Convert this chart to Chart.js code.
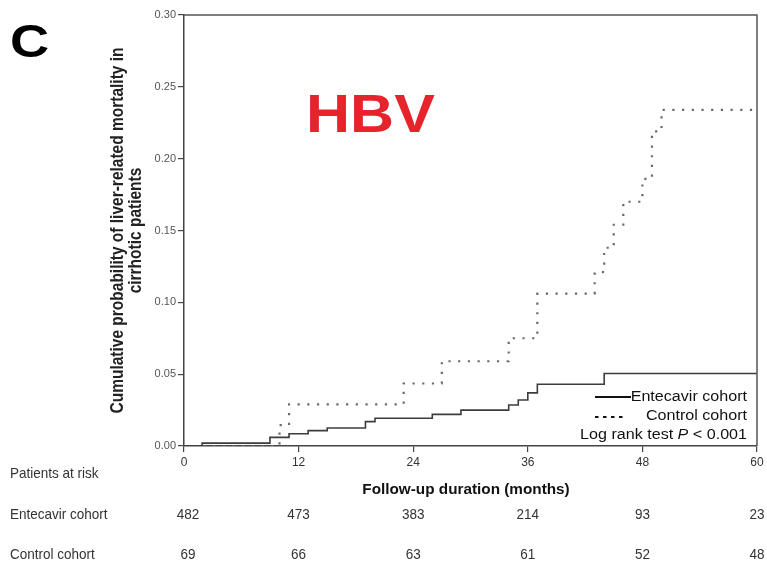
<!DOCTYPE html>
<html>
<head>
<meta charset="utf-8">
<script src="https://cdn.jsdelivr.net/npm/chart.js@4.4.0/dist/chart.umd.min.js"></script>
<style>
html, body { margin: 0; padding: 0; background: #fff; }
#wrap { width: 767px; height: 563px; }
</style>
</head>
<body>
<div id="wrap"><canvas id="kmChart" width="767" height="563"></canvas></div>
<script>
// Kaplan-Meier cumulative liver-related mortality, cirrhotic HBV patients
const monthTicks = [0, 12, 24, 36, 48, 60];
const yTicks = [0, 0.05, 0.10, 0.15, 0.20, 0.25, 0.30];

const entecavirMonths = [0, 1.9, 9, 11, 13, 15, 19, 20, 26, 29, 34, 35, 36, 37, 44, 60];
const entecavirRisk   = [0, 0.002, 0.006, 0.0085, 0.0107, 0.0125, 0.017, 0.0193, 0.022, 0.025, 0.0285, 0.032, 0.037, 0.043, 0.0505, 0.0505];

const controlMonths = [0, 10, 11, 23, 27, 34, 37, 43, 44, 45, 46, 48, 49, 50, 60];
const controlRisk   = [0, 0.0145, 0.029, 0.0435, 0.059, 0.075, 0.106, 0.121, 0.138, 0.154, 0.170, 0.186, 0.219, 0.234, 0.234];

const entecavirAtRisk = [482, 473, 383, 214, 93, 23];
const controlAtRisk   = [69, 66, 63, 61, 52, 48];

const SANS = "'Liberation Sans', Arial, sans-serif";
const STRETCH = 1.15;   // figure text is a little wide
const CONDENSED = 0.9;  // risk table text is a little narrow

function toPoints(xs, ys) {
    return xs.map((x, i) => ({ x: x, y: ys[i] }));
}

function drawText(ctx, text, x, y, font, color, align, sx, baseline) {
    ctx.save();
    ctx.font = font;
    ctx.fillStyle = color;
    ctx.textAlign = align || 'left';
    ctx.textBaseline = baseline || 'middle';
    ctx.translate(x, y);
    ctx.scale(sx || 1, 1);
    ctx.fillText(text, 0, 0);
    ctx.restore();
}

const figureText = {
    id: 'figureText',
    afterDraw(chart) {
        const { ctx, chartArea: area, scales } = chart;
        const xs = scales.x;

        // top and right frame lines
        ctx.save();
        ctx.strokeStyle = '#555';
        ctx.lineWidth = 1.5;
        ctx.beginPath();
        ctx.moveTo(area.left, area.top);
        ctx.lineTo(area.right, area.top);
        ctx.lineTo(area.right, area.bottom);
        ctx.stroke();
        ctx.restore();

        drawText(ctx, 'C', 10, 57, 'bold 46px ' + SANS, '#000', 'left', 1.18, 'alphabetic');
        drawText(ctx, 'HBV', 306, 132, 'bold 54px ' + SANS, '#e5242b', 'left', 1.13, 'alphabetic');

        // y axis title, two rotated lines
        ctx.save();
        ctx.translate(118, (area.top + area.bottom) / 2);
        ctx.rotate(-Math.PI / 2);
        ctx.scale(1, STRETCH);
        ctx.font = 'bold 15.5px ' + SANS;
        ctx.fillStyle = '#222';
        ctx.textAlign = 'center';
        ctx.textBaseline = 'middle';
        ctx.fillText('Cumulative probability of liver-related mortality in', 0, 0);
        ctx.fillText('cirrhotic patients', 0, 18 / STRETCH);
        ctx.restore();

        // legend
        const lx = 747;
        ctx.save();
        ctx.strokeStyle = '#111';
        ctx.lineWidth = 2;
        ctx.beginPath();
        ctx.moveTo(595, 397);
        ctx.lineTo(631, 397);
        ctx.stroke();
        ctx.setLineDash([3.5, 4.5]);
        ctx.lineWidth = 1.8;
        ctx.beginPath();
        ctx.moveTo(595, 417);
        ctx.lineTo(624, 417);
        ctx.stroke();
        ctx.restore();
        drawText(ctx, 'Entecavir cohort', lx, 397, '14px ' + SANS, '#111', 'right', STRETCH);
        drawText(ctx, 'Control cohort', lx, 416, '14px ' + SANS, '#111', 'right', STRETCH);

        ctx.save();
        const parts = [['Log rank test ', '14px '], ['P', 'italic 14px '], [' < 0.001', '14px ']];
        let total = 0;
        parts.forEach(p => { ctx.font = p[1] + SANS; total += ctx.measureText(p[0]).width * STRETCH; });
        let px = lx - total;
        parts.forEach(p => {
            drawText(ctx, p[0], px, 435, p[1] + SANS, '#111', 'left', STRETCH);
            ctx.font = p[1] + SANS;
            px += ctx.measureText(p[0]).width * STRETCH;
        });
        ctx.restore();

        // x axis title
        drawText(ctx, 'Follow-up duration (months)', 466, 490, 'bold 15px ' + SANS, '#111', 'center', 1.02);

        // patients at risk table
        const tableFont = '15px ' + SANS;
        drawText(ctx, 'Patients at risk', 10, 474, tableFont, '#333', 'left', CONDENSED);
        drawText(ctx, 'Entecavir cohort', 10, 515, tableFont, '#333', 'left', CONDENSED);
        drawText(ctx, 'Control cohort', 10, 555, tableFont, '#333', 'left', CONDENSED);
        monthTicks.forEach((m, i) => {
            const x = xs.getPixelForValue(m) + (i === 0 ? 4 : 0);
            drawText(ctx, String(entecavirAtRisk[i]), x, 515, tableFont, '#333', 'center', CONDENSED);
            drawText(ctx, String(controlAtRisk[i]), x, 555, tableFont, '#333', 'center', CONDENSED);
        });
    }
};

const ctx = document.getElementById('kmChart').getContext('2d');
new Chart(ctx, {
    type: 'line',
    data: {
        datasets: [
            {
                label: 'Entecavir cohort',
                data: toPoints(entecavirMonths, entecavirRisk),
                stepped: true,
                borderColor: '#3c3c3c',
                borderWidth: 1.6,
                pointRadius: 0,
                fill: false
            },
            {
                label: 'Control cohort',
                data: toPoints(controlMonths, controlRisk),
                stepped: true,
                borderColor: '#6a6a6a',
                borderWidth: 2.2,
                borderDash: [2.2, 7.5],
                pointRadius: 0,
                fill: false
            }
        ]
    },
    options: {
        responsive: false,
        devicePixelRatio: 1,
        animation: false,
        layout: { padding: { top: 15, right: 10, left: 0, bottom: 0 } },
        plugins: {
            legend: { display: false },
            tooltip: { enabled: false }
        },
        scales: {
            x: {
                type: 'linear',
                min: 0,
                max: 60,
                afterBuildTicks: s => { s.ticks = monthTicks.map(v => ({ value: v })); },
                afterFit: s => { s.height = 117; },
                grid: { drawOnChartArea: false, tickLength: 6, color: '#444', lineWidth: 1.2 },
                border: { color: '#444', width: 1.5 },
                ticks: {
                    padding: 3,
                    color: '#333',
                    maxRotation: 0,
                    font: { family: SANS, size: 12 }
                }
            },
            y: {
                type: 'linear',
                min: 0,
                max: 0.3,
                afterBuildTicks: s => { s.ticks = yTicks.map(v => ({ value: v })); },
                afterFit: s => { s.width = 184; },
                grid: { drawOnChartArea: false, tickLength: 6, color: '#444', lineWidth: 1.2 },
                border: { color: '#444', width: 1.5 },
                ticks: {
                    padding: 2,
                    color: '#555',
                    font: { family: SANS, size: 11 },
                    callback: v => v.toFixed(2)
                }
            }
        }
    },
    plugins: [figureText]
});
</script>
</body>
</html>
